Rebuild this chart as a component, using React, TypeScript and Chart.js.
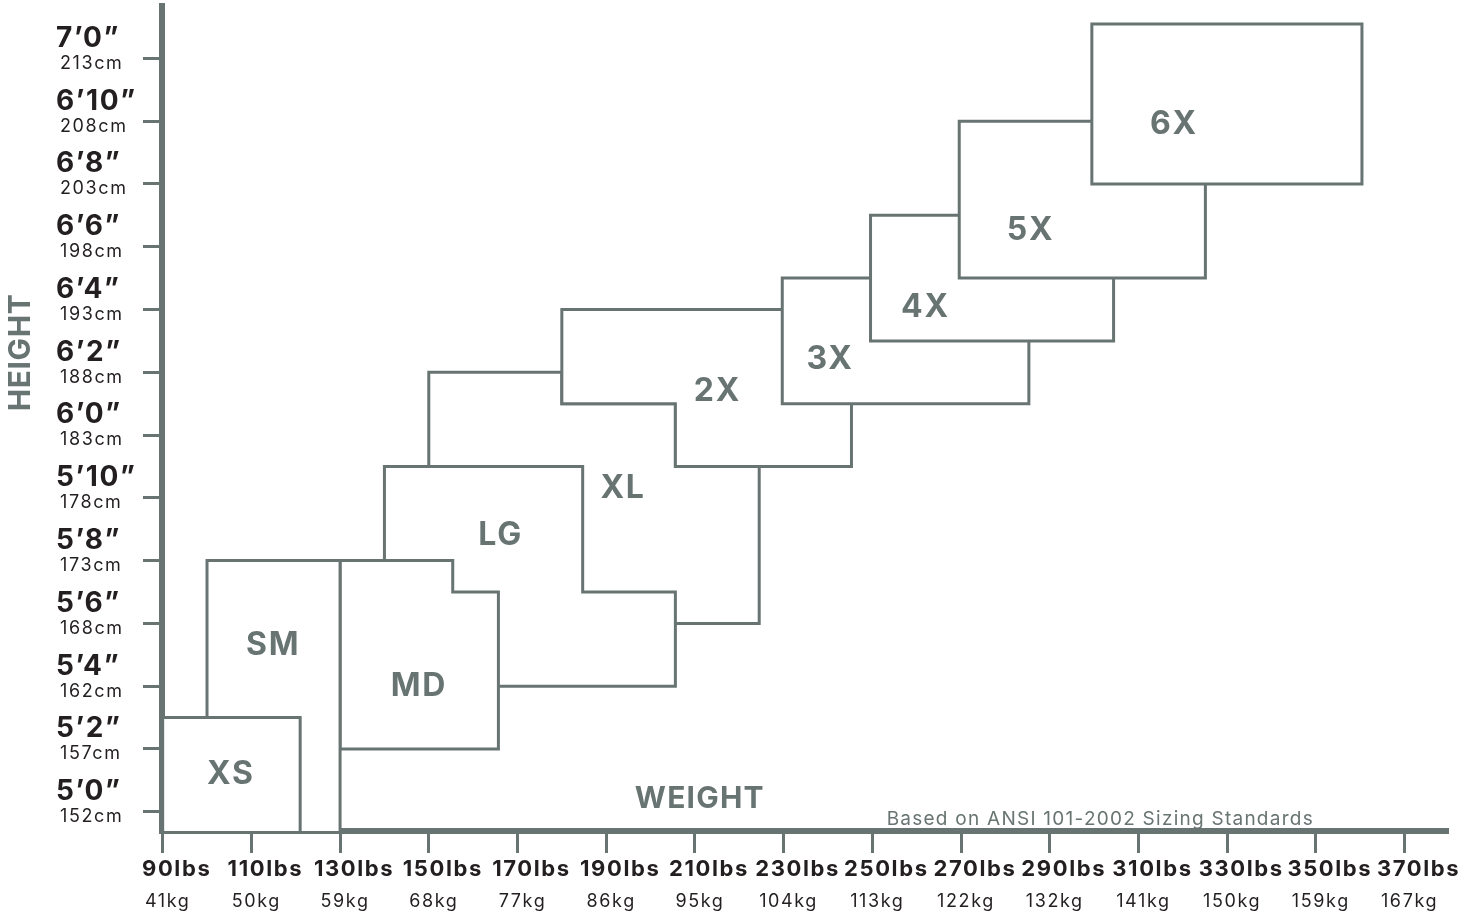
import React, { useEffect, useRef } from 'react';
import { Chart, registerables } from 'chart.js';

Chart.register(...registerables);

const GRAY = '#687472';
const INK = '#231f20';
const FONT_FAMILY = 'Inter, "Noto Sans", "DejaVu Sans", sans-serif';

// ---- axes ----
const weightTicks = [90, 110, 130, 150, 170, 190, 210, 230, 250, 270, 290, 310, 330, 350, 370];
const weightLbsLabels = ['90lbs', '110lbs', '130lbs', '150lbs', '170lbs', '190lbs', '210lbs', '230lbs', '250lbs', '270lbs', '290lbs', '310lbs', '330lbs', '350lbs', '370lbs'];
const weightKgLabels = ['41kg', '50kg', '59kg', '68kg', '77kg', '86kg', '95kg', '104kg', '113kg', '122kg', '132kg', '141kg', '150kg', '159kg', '167kg'];
const heightTicks = [60, 62, 64, 66, 68, 70, 72, 74, 76, 78, 80, 82, 84];
const heightFtLabels = ['5’0”', '5’2”', '5’4”', '5’6”', '5’8”', '5’10”', '6’0”', '6’2”', '6’4”', '6’6”', '6’8”', '6’10”', '7’0”'];
const heightCmLabels = ['152cm', '157cm', '162cm', '168cm', '173cm', '178cm', '183cm', '188cm', '193cm', '198cm', '203cm', '208cm', '213cm'];
const weightRange = [89.85, 379.8];
const heightRange = [59.385, 85.67];

// ---- size regions: [weight lbs, height inches] ----
const XS_OUTLINE = [[90, 59], [90, 63], [121, 63], [121, 59], [90, 59]];
const SM_OUTLINE = [[100, 59], [100, 68], [130, 68], [130, 59], [100, 59]];
const MD_OUTLINE = [[130, 62], [130, 68], [155.4, 68], [155.4, 67], [165.7, 67], [165.7, 62], [130, 62]];
const LG_OUTLINE = [[140, 64], [140, 71], [184.7, 71], [184.7, 67], [205.6, 67], [205.6, 64], [140, 64]];
const XL_OUTLINE = [[150, 66], [150, 74], [180, 74], [180, 73], [205.6, 73], [205.6, 71], [224.5, 71], [224.5, 66], [150, 66]];
const X2_OUTLINE = [[180, 73], [180, 76], [245.3, 76], [245.3, 71], [205.6, 71], [205.6, 73], [180, 73]];
const X3_OUTLINE = [[229.7, 73], [229.7, 77], [285.3, 77], [285.3, 73], [229.7, 73]];
const X4_OUTLINE = [[249.6, 75], [249.6, 79], [304.4, 79], [304.4, 75], [249.6, 75]];
const X5_OUTLINE = [[269.6, 77], [269.6, 82], [325.1, 82], [325.1, 77], [269.6, 77]];
const X6_OUTLINE = [[299.5, 80], [299.5, 85.1], [360.4, 85.1], [360.4, 80], [299.5, 80]];

const sizeNames = ['XS', 'SM', 'MD', 'LG', 'XL', '2X', '3X', '4X', '5X', '6X'];
const sizeOutlines = [XS_OUTLINE, SM_OUTLINE, MD_OUTLINE, LG_OUTLINE, XL_OUTLINE, X2_OUTLINE, X3_OUTLINE, X4_OUTLINE, X5_OUTLINE, X6_OUTLINE];
const sizeLayer = [6, 7, 8, 9, 10, 5, 4, 3, 2, 1];
const sizeLabelWeights = [105.4, 114.9, 147.8, 166.2, 193.8, 215.1, 240.5, 262.0, 285.7, 318.0];
const sizeLabelHeights = [61.2, 65.3, 64.0, 68.8, 70.3, 73.4, 74.4, 76.06, 78.53, 81.9];

const titleWeight = 'WEIGHT';
const titleHeight = 'HEIGHT';
const sourceNote = 'Based on ANSI 101-2002 Sizing Standards';

const textPlugin = {
  id: 'chartText',
  beforeDraw(chart: any) {
    // wider tracking for all axis tick labels (Gotham-like spacing)
    chart.ctx.letterSpacing = '1.6px';
  },
  afterDatasetsDraw(chart: any) {
    const { ctx, scales } = chart;
    const xs = scales.x;
    const ys = scales.y;
    ctx.save();
    ctx.fillStyle = GRAY;
    ctx.textAlign = 'center';
    ctx.textBaseline = 'middle';
    ctx.letterSpacing = '1.8px';
    ctx.font = `bold 32px ${FONT_FAMILY}`;
    sizeNames.forEach((name, i) => {
      ctx.fillText(name, xs.getPixelForValue(sizeLabelWeights[i]), ys.getPixelForValue(sizeLabelHeights[i]));
    });
    ctx.letterSpacing = '1.2px';
    ctx.font = `bold 30px ${FONT_FAMILY}`;
    ctx.fillText(titleWeight, xs.getPixelForValue(211.1), ys.getPixelForValue(60.4));
    ctx.letterSpacing = '1.25px';
    ctx.font = `19px ${FONT_FAMILY}`;
    ctx.fillText(sourceNote, xs.getPixelForValue(301.4), ys.getPixelForValue(59.77));
    ctx.letterSpacing = '0.6px';
    ctx.font = `bold 30px ${FONT_FAMILY}`;
    ctx.translate(21, ys.getPixelForValue(74.63));
    ctx.rotate(-Math.PI / 2);
    ctx.fillText(titleHeight, 0, 0);
    ctx.restore();
  },
};

function setTicks(values: number[]) {
  return (scale: any) => {
    scale.ticks = values.map((v) => ({ value: v }));
  };
}

export default function App() {
  const ref = useRef<HTMLCanvasElement>(null);
  useEffect(() => {
    document.body.style.margin = '0';
    document.body.style.overflow = 'hidden';
    const datasets = sizeOutlines.map((outline, i) => ({
      label: sizeNames[i],
      data: outline.map(([x, y]) => ({ x, y })),
      borderColor: GRAY,
      borderWidth: 3,
      backgroundColor: '#ffffff',
      fill: 'shape',
      pointRadius: 0,
      pointHoverRadius: 0,
      tension: 0,
      borderJoinStyle: 'miter',
      borderCapStyle: 'square',
      order: sizeLayer[i],
    }));
    const chart = new Chart(ref.current as HTMLCanvasElement, {
      type: 'line',
      data: { datasets } as any,
      options: {
        animation: false,
        responsive: false,
        devicePixelRatio: 1,
        layout: { padding: { left: 0, top: 6, right: 25, bottom: 0 } },
        plugins: { legend: { display: false }, tooltip: { enabled: false } },
        scales: {
          x: {
            type: 'linear',
            position: 'bottom',
            weight: 0,
            z: 1,
            min: weightRange[0],
            max: weightRange[1],
            afterBuildTicks: setTicks(weightTicks),
            afterFit: (s: any) => { s.height = 52; s.paddingLeft = 0; s.paddingRight = 0; },
            grid: { display: true, drawOnChartArea: false, drawTicks: true, tickLength: 22, tickWidth: 3, tickColor: GRAY, color: GRAY },
            border: { display: true, width: 6, color: GRAY },
            ticks: {
              autoSkip: false, maxRotation: 0, minRotation: 0, labelOffset: 14, padding: 3.3,
              color: INK, font: { family: FONT_FAMILY, size: 22, weight: 'bold' },
              callback: (v: any) => weightLbsLabels[weightTicks.indexOf(Number(v))],
            },
          },
          x2: {
            type: 'linear',
            position: 'bottom',
            weight: 1,
            min: weightRange[0],
            max: weightRange[1],
            afterBuildTicks: setTicks(weightTicks),
            afterFit: (s: any) => { s.height = 34; s.paddingLeft = 0; s.paddingRight = 0; },
            grid: { display: false, drawTicks: false },
            border: { display: false },
            ticks: {
              autoSkip: false, maxRotation: 0, minRotation: 0, labelOffset: 5, padding: 7.7,
              color: INK, font: { family: FONT_FAMILY, size: 18, weight: 'normal' },
              callback: (v: any) => weightKgLabels[weightTicks.indexOf(Number(v))],
            },
          },
          y: {
            type: 'linear',
            position: 'left',
            weight: 0,
            z: 1,
            min: heightRange[0],
            max: heightRange[1],
            afterBuildTicks: setTicks(heightTicks),
            afterFit: (s: any) => { s.width = 106; s.paddingTop = 0; s.paddingBottom = 0; },
            grid: { display: true, drawOnChartArea: false, drawTicks: true, tickLength: 19, tickWidth: 3, tickColor: GRAY, color: GRAY },
            border: { display: true, width: 6, color: GRAY },
            ticks: {
              autoSkip: false, crossAlign: 'far', labelOffset: -20, padding: 0,
              color: INK, font: { family: FONT_FAMILY, size: 28, weight: 'bold' },
              callback: (v: any) => heightFtLabels[heightTicks.indexOf(Number(v))],
            },
          },
          y2: {
            type: 'linear',
            position: 'left',
            weight: 1,
            min: heightRange[0],
            max: heightRange[1],
            afterBuildTicks: setTicks(heightTicks),
            afterFit: (s: any) => { s.width = 56; s.paddingTop = 0; s.paddingBottom = 0; },
            grid: { display: false, drawTicks: false },
            border: { display: false },
            ticks: {
              autoSkip: false, mirror: true, labelOffset: 5, padding: 4,
              color: INK, font: { family: FONT_FAMILY, size: 18, weight: 'normal' },
              callback: (v: any) => heightCmLabels[heightTicks.indexOf(Number(v))],
            },
          },
        },
      } as any,
      plugins: [textPlugin],
    });
    return () => chart.destroy();
  }, []);
  return (
    <div style={{ width: 1473, height: 917, position: 'relative', background: '#ffffff' }}>
      <canvas ref={ref} width={1473} height={917} style={{ display: 'block' }} />
    </div>
  );
}
